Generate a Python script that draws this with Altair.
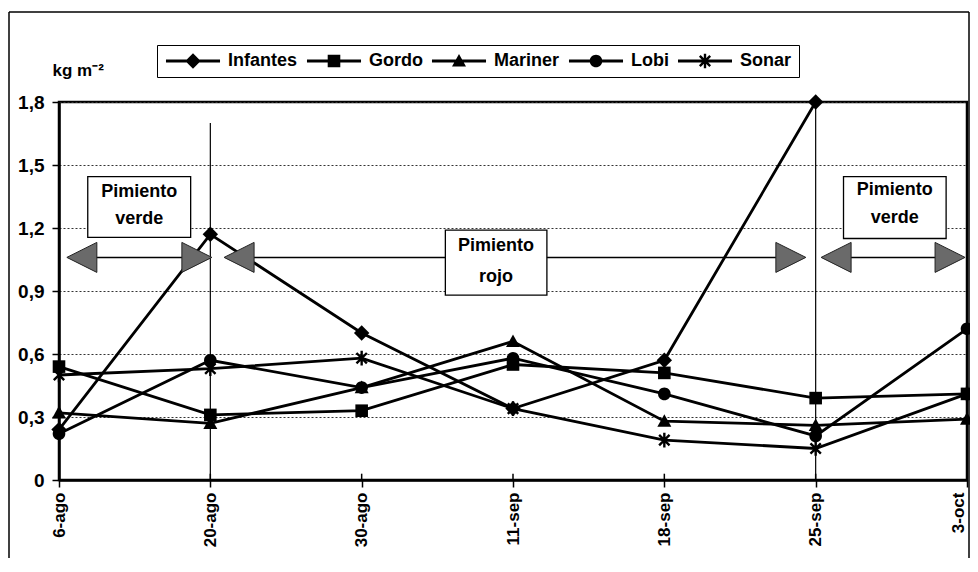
import json
import math
import altair as alt
import pandas as pd

# ---------------- data ----------------
fechas = ["6-ago", "20-ago", "30-ago", "11-sep", "18-sep", "25-sep", "3-oct"]
series = ["Infantes", "Gordo", "Mariner", "Lobi", "Sonar"]
infantes = [0.24, 1.17, 0.70, 0.34, 0.57, 1.80, None]
gordo = [0.54, 0.31, 0.33, 0.55, 0.51, 0.39, 0.41]
mariner = [0.32, 0.27, 0.44, 0.66, 0.28, 0.26, 0.29]
lobi = [0.22, 0.57, 0.44, 0.58, 0.41, 0.21, 0.72]
sonar = [0.50, 0.53, 0.58, 0.34, 0.19, 0.15, 0.41]
y_ticks = [0, 0.3, 0.6, 0.9, 1.2, 1.5, 1.8]

# annotations (period separators, arrows and boxes), in axis units
sep_x = [1, 5]
sep_top = [1.70, 1.80]
box_x = [0.19, 2.553, 5.184]
box_x2 = [0.87, 3.224, 5.862]
box_top = [1.445, 1.19, 1.445]
box_bottom = [1.155, 0.88, 1.15]
txt_x = [0.53, 0.53, 2.888, 2.888, 5.523, 5.523]
txt_y = [1.37, 1.245, 1.114, 0.967, 1.381, 1.248]
txt_label = ["Pimiento", "verde", "Pimiento", "rojo", "Pimiento", "verde"]
arrow_x = [0.151, 1.19, 5.135]
arrow_x2 = [0.911, 4.836, 5.888]
arrow_y = [1.06, 1.06, 1.06]
tri_x = [0.151, 0.911, 1.19, 4.836, 5.135, 5.888]
tri_dir = ["izq", "der", "izq", "der", "izq", "der"]
tri_y = [1.06] * 6

# ---------------- tables ----------------
values = {"Infantes": infantes, "Gordo": gordo, "Mariner": mariner, "Lobi": lobi, "Sonar": sonar}
rows = []
for s in series:
    for i, v in enumerate(values[s]):
        if v is not None:
            rows.append({"serie": s, "idx": i, "valor": v})
df = pd.DataFrame(rows)

df_sep = pd.DataFrame({"idx": sep_x, "valor": [0] * len(sep_x), "valor2": sep_top})
df_box = pd.DataFrame({"idx": box_x, "idx2": box_x2, "valor": box_top, "valor2": box_bottom})
df_txt = pd.DataFrame({"idx": txt_x, "valor": txt_y, "t": txt_label})
df_arrow = pd.DataFrame({"idx": arrow_x, "idx2": arrow_x2, "valor": arrow_y})
df_tri = pd.DataFrame({"idx": tri_x, "valor": tri_y, "dir": tri_dir})
df_ticks = pd.DataFrame({"idx": list(range(len(fechas))), "valor": [0] * len(fechas),
                         "valor2": [0.03] * len(fechas)})

# ---------------- marker paths ----------------
def rect_bar(angle_deg, L, W):
    t = math.radians(angle_deg)
    d = (math.cos(t), math.sin(t))
    n = (-math.sin(t), math.cos(t))
    pts = [(-L * d[0] - W * n[0], -L * d[1] - W * n[1]),
           (L * d[0] - W * n[0], L * d[1] - W * n[1]),
           (L * d[0] + W * n[0], L * d[1] + W * n[1]),
           (-L * d[0] + W * n[0], -L * d[1] + W * n[1])]
    return "M" + "L".join(f"{x:.3f},{y:.3f}" for x, y in pts) + "Z"

diamond = "M0,-1.1L1.1,0L0,1.1L-1.1,0Z"
square = "M-0.9,-0.9L0.9,-0.9L0.9,0.9L-0.9,0.9Z"
triangle = "M0,-1L1,0.8L-1,0.8Z"
circle = "M-0.9,0A0.9,0.9,0,1,1,0.9,0A0.9,0.9,0,1,1,-0.9,0Z"
asterisk = rect_bar(90, 1.05, 0.17) + rect_bar(45, 1.05, 0.17) + rect_bar(135, 1.05, 0.17)
plot_paths = [diamond, square, triangle, circle, asterisk]
bar = "M-3.86,-0.2L3.86,-0.2L3.86,0.2L-3.86,0.2Z"
legend_paths = [bar + p for p in plot_paths]
tri_paths = ["M-1,0L1,-1L1,1Z", "M1,0L-1,-1L-1,1Z"]

FONT = "Liberation Sans"

label_expr_x = json.dumps(fechas) + "[datum.value]"
X = alt.X("idx:Q", scale=alt.Scale(domain=[0, 6], nice=False, zero=False),
          axis=alt.Axis(values=list(range(7)), labelExpr=label_expr_x, labelAngle=-90,
                        labelAlign="right",
                        labelBaseline={"condition": {"test": "datum.value == 6", "value": "bottom"},
                                       "value": "middle"},
                        labelFontSize=17,
                        labelFontWeight="bold", tickSize=7, labelPadding=5, grid=False,
                        title=None))
Y = alt.Y("valor:Q", scale=alt.Scale(domain=[0, 1.8], nice=False),
          axis=alt.Axis(values=y_ticks,
                        labelExpr="datum.value == 0 ? '0' : replace(format(datum.value, '.1f'), '.', ',')",
                        labelFontSize=19, labelFontWeight="bold", tickSize=7, labelPadding=8,
                        grid=True, gridDash=[2, 2], gridColor="#333333", gridWidth=1,
                        title="kg m⁻²", titleAngle=0, titleX=-7, titleY=-32,
                        titleAlign="left", titleBaseline="middle", titleFontSize=17,
                        titleFontWeight="bold", titleFont=FONT))

seps = alt.Chart(df_sep).mark_rule(color="black", strokeWidth=1.2).encode(
    x=X, y=Y, y2="valor2:Q")

inner_ticks = alt.Chart(df_ticks).mark_rule(color="black", strokeWidth=1.5).encode(
    x=X, y=Y, y2="valor2:Q")

arrows = alt.Chart(df_arrow).mark_rule(color="black", strokeWidth=1.5).encode(
    x=X, x2="idx2:Q", y=Y)

boxes = alt.Chart(df_box).mark_rect(fill="white", stroke="black", strokeWidth=1.3).encode(
    x=X, x2="idx2:Q", y=Y, y2="valor2:Q")

texts = alt.Chart(df_txt).mark_text(font=FONT, fontSize=18, fontWeight="bold",
                                    color="black").encode(x=X, y=Y, text="t:N")

tris = alt.Chart(df_tri).mark_point(filled=True, size=900, fill="#6a6a6a", stroke="#222222",
                                    strokeWidth=1, opacity=1).encode(
    x=X, y=Y,
    shape=alt.Shape("dir:N", scale=alt.Scale(domain=["izq", "der"], range=tri_paths), legend=None))

lines = alt.Chart(df).mark_line(color="black", strokeWidth=2.8).encode(
    x=X, y=Y, detail="serie:N", order="idx:Q")

points = alt.Chart(df).mark_point(filled=True, color="black", size=196, opacity=1).encode(
    x=X, y=Y,
    shape=alt.Shape("serie:N", scale=alt.Scale(domain=series, range=plot_paths), legend=None))

legend_layer = alt.Chart(df).mark_point(filled=True, color="black", size=196, opacity=0).encode(
    x=X, y=Y,
    shape=alt.Shape("serie:N", scale=alt.Scale(domain=series, range=legend_paths),
                    legend=alt.Legend(title=None, orient="none", legendX=98, legendY=-57,
                                      direction="horizontal", columns=5, columnPadding=7,
                                      padding=7, strokeColor="black", fillColor="white",
                                      symbolSize=196, symbolOffset=20, labelOffset=26,
                                      symbolStrokeWidth=0, symbolFillColor="black",
                                      symbolOpacity=1, labelFontSize=18, labelFont=FONT,
                                      labelFontWeight="bold", labelColor="black",
                                      labelBaseline="middle")))

frame_df = pd.DataFrame({"k": [0]})
frame_left = alt.Chart(frame_df).mark_rule(color="black", strokeWidth=1.5).encode(
    x=alt.value(-50), y=alt.value(-90), y2=alt.value(480))
frame_top = alt.Chart(frame_df).mark_rule(color="black", strokeWidth=1.5).encode(
    x=alt.value(-50), x2=alt.value(910), y=alt.value(-90))
frame_right = alt.Chart(frame_df).mark_rule(color="black", strokeWidth=1.5).encode(
    x=alt.value(910), y=alt.value(-90), y2=alt.value(480))

chart = alt.layer(
    seps, inner_ticks, arrows, boxes, texts, lines, points, tris, legend_layer,
    frame_left, frame_top, frame_right
).resolve_scale(shape="independent").properties(
    width=908, height=378,
    autosize=alt.AutoSizeParams(type="none"),
    padding={"left": 51, "top": 94, "right": 3, "bottom": 78},
    background="white"
).configure_view(
    stroke="black", strokeWidth=2.5
).configure_axis(
    domainColor="black", domainWidth=2.5, tickColor="black", tickWidth=1.5,
    labelColor="black", labelFont=FONT, titleColor="black"
)

chart.save("out.html", embed_options={"renderer": "svg", "actions": False})
